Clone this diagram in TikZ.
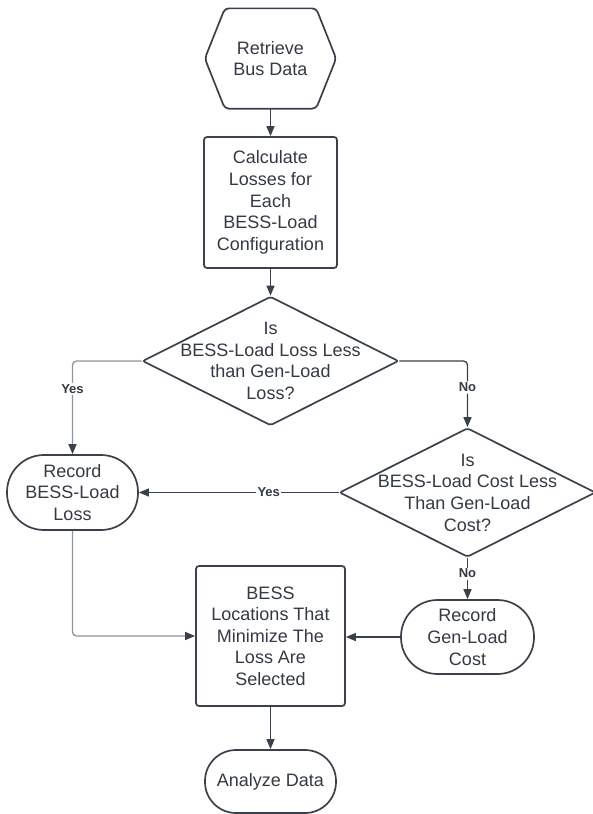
\documentclass[tikz,border=0pt]{standalone}
\usepackage{fontspec}
\setmainfont{Liberation Sans}
\usetikzlibrary{positioning,calc,arrows.meta,shapes.geometric}
\definecolor{ink}{HTML}{3A414A}
\definecolor{txt}{HTML}{333A44}
\definecolor{pale}{HTML}{8E949C}
\newcommand{\Cx}{270.5}
\newcommand{\Lx}{72.5}
\newcommand{\Rx}{467.5}

\begin{document}
\begin{tikzpicture}[x=1pt,y=-1pt, every node/.style={text=txt, font=\fontsize{18}{21.6}\selectfont, align=center, inner sep=0pt},
  line width=1.3pt, >={Triangle[length=10pt,width=8pt,color=ink]},
  shapeline/.style={draw=ink, line width=1.7pt},
  proc/.style={shapeline, rounded corners=3pt},
  term/.style={shapeline, rounded corners=#1},
  decision/.style={shapeline, diamond, rounded corners=2pt, minimum width=256pt, minimum height=129pt},
  lbl/.style={fill=white, font=\bfseries\fontsize{13}{15}\selectfont, inner sep=1.5pt},
  conn/.style={draw=ink, ->},
  faint/.style={draw=pale, ->, rounded corners=4pt}]
\useasboundingbox (0,0) rectangle (593,814);
% ---- start: hexagon round the first step
\node[minimum width=130pt, minimum height=99pt] (hex) at (\Cx,58.5) {Retrieve\\Bus Data};
\draw[shapeline, rounded corners=4pt] (hex.west) -- ([xshift=20pt]hex.north west) -- ([xshift=-20pt]hex.north east)
  -- (hex.east) -- ([xshift=-20pt]hex.south east) -- ([xshift=20pt]hex.south west) -- cycle;
\node[proc, minimum width=133pt, minimum height=131pt] (calc) at (\Cx,202.5)
  {Calculate\\Losses for\\Each\\BESS-Load\\Configuration};
% ---- the two questions
\node[decision, label={[name=d1t]center:{Is\\BESS-Load Loss Less\\than Gen-Load\\Loss?}}] (d1) at (\Cx,361) {};
\node[decision, label={[name=d2t]center:{Is\\BESS-Load Cost Less\\Than Gen-Load\\Cost?}}] (d2) at (\Rx,492.5) {};
% ---- outcomes
\node[term=37pt, minimum width=131pt, minimum height=75pt] (rec1) at (\Lx,492.5) {Record\\BESS-Load\\Loss};
\node[term=36.5pt, minimum width=133pt, minimum height=74pt] (rec2) at (\Rx,637) {Record\\Gen-Load\\Cost};
\node[proc, minimum width=149pt, minimum height=140pt] (sel) at (\Cx,636)
  {BESS\\Locations That\\Minimize The\\Loss Are\\Selected};
\node[term=31pt, minimum width=131pt, minimum height=63pt] (ana) at (\Cx,781.5) {Analyze Data};
% ---- connectors
\draw[conn] (hex) -- (calc);
\draw[conn] (calc) -- (d1);
\draw[faint] (d1.west) -| node[lbl, pos=0.65] {Yes} (rec1.north);
\draw[conn, rounded corners=4pt] (d1.east) -| node[lbl, pos=0.7] {No} (d2.north);
\draw[conn] (d2.west) -- node[lbl, pos=0.35] {Yes} (rec1.east |- d2.west);
\draw[conn] (d2.south) -- node[lbl, pos=0.38] {No} (rec2.north);
\draw[faint] (rec1.south) |- (sel.west);
\draw[conn] (rec2.west) -- (rec2.west -| sel.east);
\draw[conn] (sel) -- (ana);
\end{tikzpicture}
\end{document}
